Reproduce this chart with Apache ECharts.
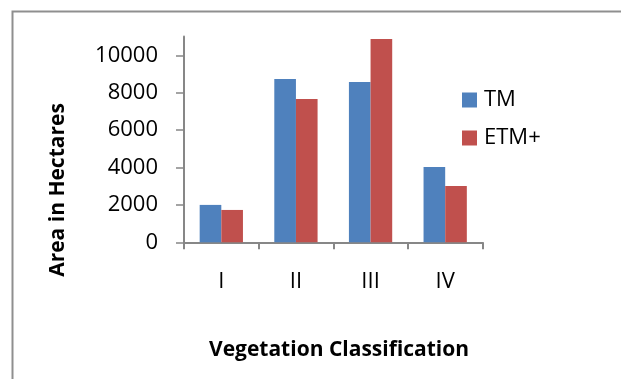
<!DOCTYPE html>
<html>
<head>
<meta charset="utf-8">
<script src="https://cdn.jsdelivr.net/npm/echarts@6/dist/echarts.min.js"></script>
<style>
html,body{margin:0;padding:0;background:#fff;}
#chart{width:621px;height:379px;}
</style>
</head>
<body>
<div id="chart"></div>
<script>
var categories = ['I', 'II', 'III', 'IV'];
var seriesNames = ['TM', 'ETM+'];
var tmValues = [2000, 8730, 8570, 4030];
var etmValues = [1730, 7660, 10870, 3010];
var yTicks = [0, 2000, 4000, 6000, 8000, 10000];
var yMax = 11000;
var xTitle = 'Vegetation Classification';
var yTitle = 'Area in Hectares';

var FONT = '"Open Sans", "Liberation Sans", sans-serif';
var chart = echarts.init(document.getElementById('chart'), null, {renderer: 'canvas'});
var option = {
  animation: false,
  backgroundColor: '#ffffff',
  color: ['#4F81BD', '#C0504D'],
  grid: {left: 184, right: 138.5, top: 36.6, bottom: 136.7, containLabel: false},
  legend: {
    orient: 'vertical',
    left: 462, top: 89,
    padding: 0,
    itemWidth: 15, itemHeight: 15, itemGap: 16,
    icon: 'rect',
    textStyle: {fontFamily: FONT, fontSize: 22, color: '#000', padding: [0, 0, 0, 2]},
    data: seriesNames
  },
  xAxis: {
    type: 'category',
    data: categories,
    axisLine: {lineStyle: {color: '#878787', width: 2}},
    axisTick: {show: true, length: 7, lineStyle: {color: '#878787', width: 2}},
    axisLabel: {fontFamily: FONT, fontSize: 22, color: '#000', margin: 28}
  },
  yAxis: {
    type: 'value',
    min: 0, max: yMax, interval: 2000,
    splitLine: {show: false},
    axisLine: {show: true, lineStyle: {color: '#878787', width: 2}},
    axisTick: {show: true, length: 8, lineStyle: {color: '#878787', width: 1.5}, customValues: yTicks},
    axisLabel: {fontFamily: FONT, fontSize: 22, color: '#000', margin: 26, customValues: yTicks,
      formatter: function (v) { return String(v); }}
  },
  series: [
    {name: seriesNames[0], type: 'bar', data: tmValues, barGap: '0%', barCategoryGap: '42%'},
    {name: seriesNames[1], type: 'bar', data: etmValues, barGap: '0%', barCategoryGap: '42%'}
  ],
  graphic: [
    {type: 'rect', left: 10, top: 9, shape: {width: 700, height: 500}, style: {fill: 'none', stroke: '#8f8f8f', lineWidth: 2}, silent: true},
    {type: 'text', x: 339, y: 350, style: {text: xTitle, font: 'bold 21px ' + FONT, fill: '#000', textAlign: 'center', textVerticalAlign: 'middle'}},
    {type: 'text', x: 58, y: 190, rotation: Math.PI / 2, style: {text: yTitle, font: 'bold 21px ' + FONT, fill: '#000', textAlign: 'center', textVerticalAlign: 'middle'}}
  ]
};
chart.setOption(option);
</script>
</body>
</html>
